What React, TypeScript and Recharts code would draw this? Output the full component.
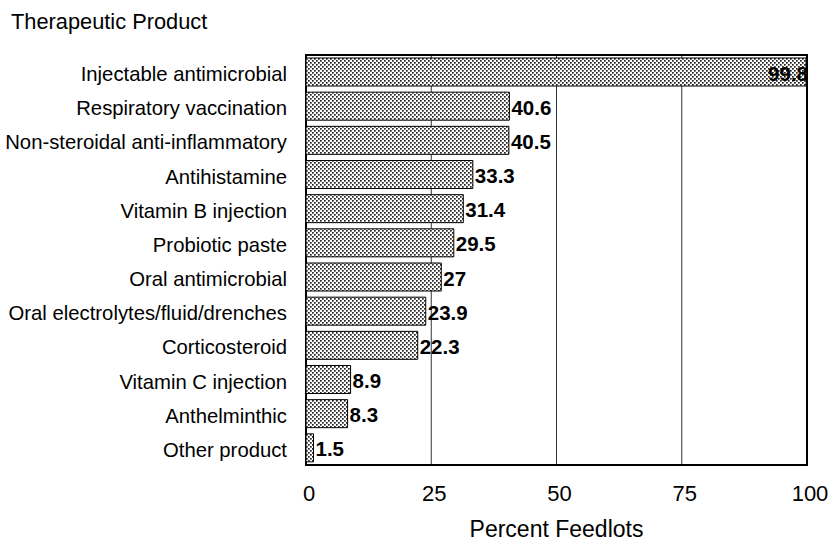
import React from 'react';
import { BarChart, Bar, XAxis, YAxis, CartesianGrid, ReferenceArea, Label } from 'recharts';

const categories = [
  'Injectable antimicrobial',
  'Respiratory vaccination',
  'Non-steroidal anti-inflammatory',
  'Antihistamine',
  'Vitamin B injection',
  'Probiotic paste',
  'Oral antimicrobial',
  'Oral electrolytes/fluid/drenches',
  'Corticosteroid',
  'Vitamin C injection',
  'Anthelminthic',
  'Other product',
];
const percentFeedlots = [99.8, 40.6, 40.5, 33.3, 31.4, 29.5, 27, 23.9, 22.3, 8.9, 8.3, 1.5];
const xTicks = [0, 25, 50, 75, 100];

const data = categories.map((name, i) => ({ name, value: percentFeedlots[i] }));

const FONT = '"Liberation Sans", Arial, Helvetica, sans-serif';

const YTick = (props: any) => {
  const { x, y, payload } = props;
  return (
    <text x={x} y={y} dy={2} textAnchor="end" dominantBaseline="central" fontSize={20.3} fill="#000" fontFamily={FONT}>
      {payload.value}
    </text>
  );
};

const XTick = (props: any) => {
  const { x, y, payload } = props;
  return (
    <text x={x + 3} y={y} textAnchor="middle" dominantBaseline="central" fontSize={22} fill="#000" fontFamily={FONT}>
      {payload.value}
    </text>
  );
};

const renderLabel = (props: any) => {
  const { x, y, width, height, value } = props;
  const big = value > 90;
  return (
    <text
      x={x + width + 2}
      y={y + height / 2 + 1}
      textAnchor={big ? 'end' : 'start'}
      dominantBaseline="central"
      fontSize={20.5}
      fontWeight="bold"
      fill="#000"
      fontFamily={FONT}
    >
      {value}
    </text>
  );
};

export default function App() {
  return (
    <div style={{ position: 'absolute', left: 0, top: 0, width: 836, height: 541, background: '#fff' }}>
      <div
        style={{
          position: 'absolute',
          left: 11,
          top: 11,
          fontSize: 21.8,
          lineHeight: '22px',
          fontFamily: FONT,
          color: '#000',
          whiteSpace: 'nowrap',
        }}
      >
        Therapeutic Product
      </div>
      <BarChart
        width={836}
        height={541}
        data={data}
        layout="vertical"
        margin={{ top: 55, right: 29, bottom: 0, left: 0 }}
        barCategoryGap={3}
      >
        <defs>
          <pattern id="dots" width="4" height="4" patternUnits="userSpaceOnUse">
            <rect width="4" height="4" fill="#fff" />
            <rect x="0" y="0" width="1.7" height="1.7" fill="#222" />
            <rect x="2" y="2" width="1.7" height="1.7" fill="#222" />
          </pattern>
        </defs>
        <CartesianGrid horizontal={false} vertical={true} stroke="#333" strokeWidth={1} />
        <XAxis
          type="number"
          domain={[0, 100]}
          ticks={xTicks}
          axisLine={false}
          tickLine={false}
          tickSize={0}
          tickMargin={28}
          height={76}
          tick={<XTick />}
        >
          <Label
            value="Percent Feedlots"
            position="insideBottom"
            offset={4}
            style={{ fontSize: 23, fill: '#000', fontFamily: FONT }}
          />
        </XAxis>
        <YAxis
          type="category"
          dataKey="name"
          width={306}
          axisLine={false}
          tickLine={false}
          tickSize={0}
          tickMargin={19}
          interval={0}
          tick={<YTick />}
        />
        <Bar
          dataKey="value"
          fill="url(#dots)"
          stroke="#000"
          strokeWidth={1}
          barSize={28}
          isAnimationActive={false}
          label={renderLabel}
        />
        <ReferenceArea x1={0} x2={100} fill="none" stroke="#000" strokeWidth={2} ifOverflow="visible" />
      </BarChart>
    </div>
  );
}
